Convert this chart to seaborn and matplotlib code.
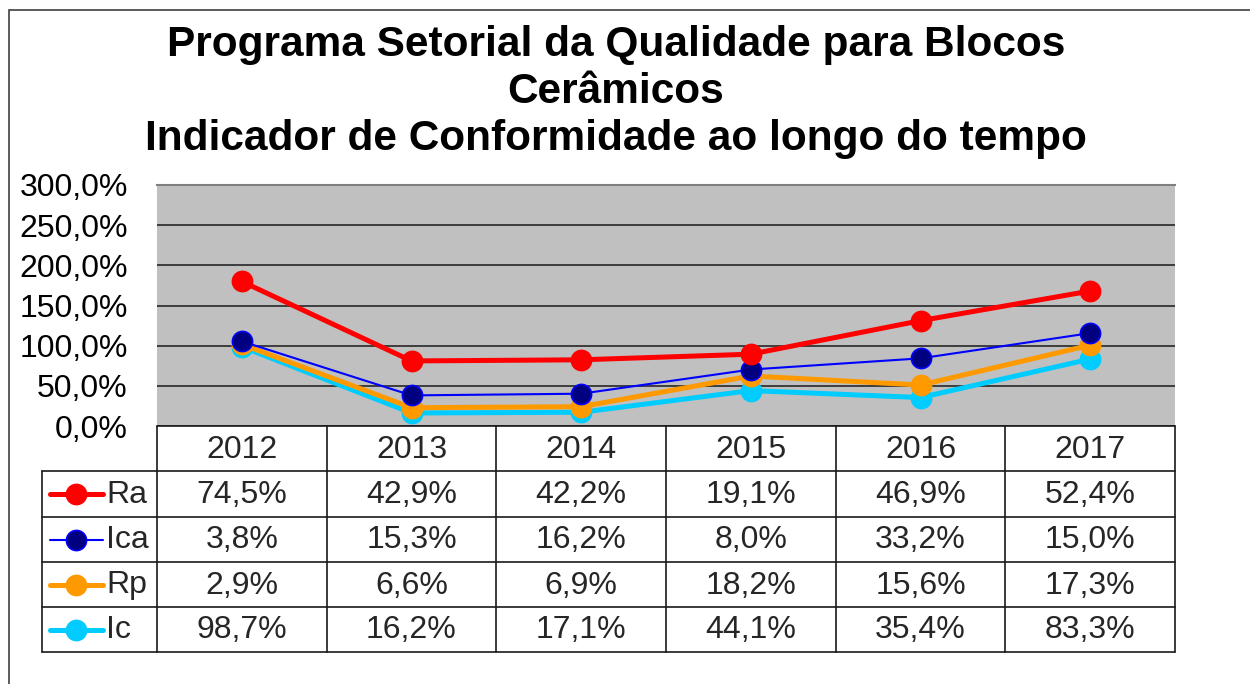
import numpy as np
import pandas as pd
import matplotlib
matplotlib.use("Agg")
import matplotlib.pyplot as plt
import seaborn as sns
from matplotlib.lines import Line2D
from matplotlib.patches import Rectangle
from matplotlib.ticker import FuncFormatter, MultipleLocator

# ---- data ----
years = ["2012", "2013", "2014", "2015", "2016", "2017"]
series_names = ["Ra", "Ica", "Rp", "Ic"]
ra = [74.5, 42.9, 42.2, 19.1, 46.9, 52.4]
ica = [3.8, 15.3, 16.2, 8.0, 33.2, 15.0]
rp = [2.9, 6.6, 6.9, 18.2, 15.6, 17.3]
ic = [98.7, 16.2, 17.1, 44.1, 35.4, 83.3]
title_lines = ["Programa Setorial da Qualidade para Blocos", "Cerâmicos",
               "Indicador de Conformidade ao longo do tempo"]

values = {"Ra": ra, "Ica": ica, "Rp": rp, "Ic": ic}
styles = {
    "Ra": dict(color="#FF0000", lw=3.6, mfc="#FF0000", mec="#FF0000"),
    "Ica": dict(color="#0000FF", lw=1.5, mfc="#000080", mec="#0000FF"),
    "Rp": dict(color="#FF9900", lw=3.6, mfc="#FF9900", mec="#FF9900"),
    "Ic": dict(color="#00CCFF", lw=3.6, mfc="#00CCFF", mec="#00CCFF"),
}

# stacked (Excel "stacked line"): Ic bottom, then Rp, Ica, Ra
stack_order = ["Ic", "Rp", "Ica", "Ra"]
cum = {}
running = np.zeros(len(years))
for name in stack_order:
    running = running + np.array(values[name])
    cum[name] = running.copy()

sns.set_theme(style="white")
plt.rcParams["font.family"] = ["Liberation Sans", "DejaVu Sans"]

W, H = 1250, 684
fig = plt.figure(figsize=(W / 100, H / 100), dpi=100)


def fx(x):
    return x / W


def fy(y):
    return 1 - y / H


# outer frame
fig.patches.append(Rectangle((fx(9), fy(700)), fx(1300 - 9), fy(10) - fy(700),
                             transform=fig.transFigure, fill=False,
                             edgecolor="#404040", lw=1.2, zorder=0))

L, R, T, B = 157, 1175, 185, 426
ax = fig.add_axes([fx(L), fy(B), fx(R - L), fy(T) - fy(B)])
ax.set_facecolor("#C0C0C0")

idx = np.arange(len(years))
zo = {"Ic": 3, "Rp": 4, "Ica": 5, "Ra": 6}
for name in stack_order:
    st = styles[name]
    df = pd.DataFrame({"x": idx, "y": cum[name]})
    sns.lineplot(data=df, x="x", y="y", ax=ax, color=st["color"], lw=st["lw"],
                 marker="o", markersize=14.5, markerfacecolor=st["mfc"],
                 markeredgecolor=st["mec"], markeredgewidth=1.2,
                 zorder=zo[name], legend=False)

ax.set_xlim(-0.5, len(years) - 0.5)
ax.set_ylim(0, 300)
ax.yaxis.set_major_locator(MultipleLocator(50))
ax.yaxis.set_major_formatter(FuncFormatter(lambda v, p: f"{v:.1f}%".replace(".", ",")))
ax.grid(axis="y", color="#1a1a1a", lw=1.1)
ax.set_axisbelow(True)
ax.set_xticks([])
ax.set_xlabel("")
ax.set_ylabel("")
ax.tick_params(axis="y", length=0, pad=21, labelsize=23, colors="black")
for s in ["left", "right", "bottom"]:
    ax.spines[s].set_visible(False)
ax.spines["top"].set_color("#808080")
ax.spines["top"].set_linewidth(1.5)

# ---- title ----
for line, yc in zip(title_lines, [45, 92, 139]):
    fig.text(fx(616), fy(yc), line, ha="center", va="center",
             fontsize=30.5, fontweight="bold", color="black")

# ---- data table ----
col_edges = np.linspace(L, R, len(years) + 1)
row_edges = [426, 471, 517, 562, 607, 652]
lab_left = 42
lc = "#1a1a1a"
tl = dict(transform=fig.transFigure, color=lc, lw=1.2)
# vertical lines
for xe in col_edges:
    fig.add_artist(Line2D([fx(xe), fx(xe)], [fy(row_edges[0]), fy(row_edges[-1])], **tl))
fig.add_artist(Line2D([fx(lab_left), fx(lab_left)], [fy(row_edges[1]), fy(row_edges[-1])], **tl))
# horizontal lines
fig.add_artist(Line2D([fx(L), fx(R)], [fy(row_edges[0]), fy(row_edges[0])], **tl))
for ye in row_edges[1:]:
    fig.add_artist(Line2D([fx(lab_left), fx(R)], [fy(ye), fy(ye)], **tl))

# header
for i, yr in enumerate(years):
    xc = (col_edges[i] + col_edges[i + 1]) / 2
    fig.text(fx(xc), fy((row_edges[0] + row_edges[1]) / 2 + 1), yr,
             ha="center", va="center", fontsize=23)

for r, name in enumerate(series_names):
    yc = (row_edges[r + 1] + row_edges[r + 2]) / 2
    st = styles[name]
    fig.add_artist(Line2D([fx(50), fx(103)], [fy(yc), fy(yc)], transform=fig.transFigure,
                          color=st["color"], lw=st["lw"]))
    fig.add_artist(Line2D([fx(76)], [fy(yc)], transform=fig.transFigure, marker="o",
                          markersize=14.5, markerfacecolor=st["mfc"],
                          markeredgecolor=st["mec"], markeredgewidth=1.2, lw=0))
    fig.text(fx(106), fy(yc + 1), name, ha="left", va="center", fontsize=23)
    for i, v in enumerate(values[name]):
        xc = (col_edges[i] + col_edges[i + 1]) / 2
        fig.text(fx(xc), fy(yc + 1), f"{v:.1f}%".replace(".", ","),
                 ha="center", va="center", fontsize=23)

fig.savefig("out.png", dpi=100)
